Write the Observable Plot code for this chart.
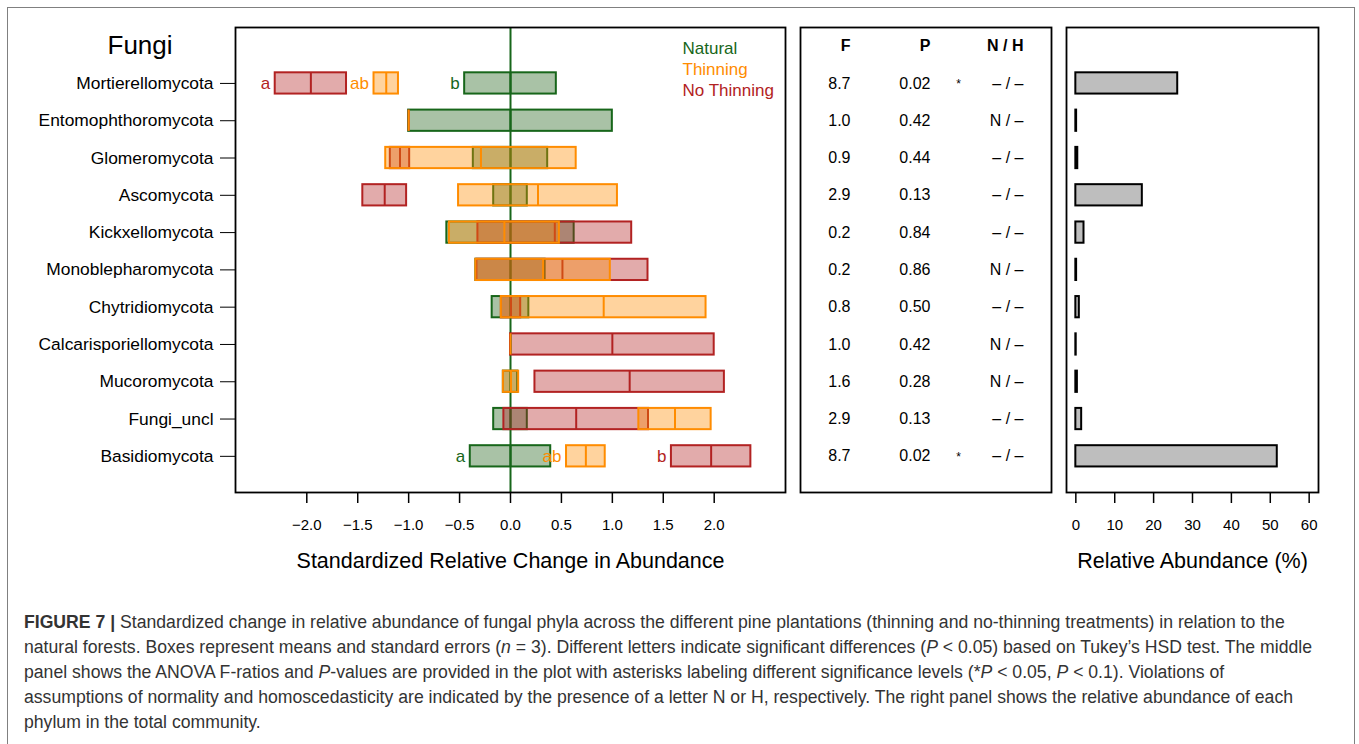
<!DOCTYPE html>
<html><head><meta charset="utf-8">
<script src="https://cdn.jsdelivr.net/npm/d3@7"></script>
<script src="https://cdn.jsdelivr.net/npm/@observablehq/plot@0.6"></script>
<style>
body{margin:0;background:#fff;}
#fig{position:relative;width:1359px;height:744px;overflow:hidden;font-family:"Liberation Sans",Arial,Helvetica,sans-serif;background:#fff;}
#border{position:absolute;left:7px;top:7px;width:1346px;height:800px;border:1px solid #808080;}
.panel{position:absolute;top:0;}
#caption{position:absolute;left:24px;top:610px;font-size:16px;line-height:25px;color:#333;white-space:nowrap;}
#caption span{display:block;}
</style></head><body>
<div id="fig">
<div id="border"></div>
<div id="p1" class="panel" style="left:0px"></div>
<div id="p2" class="panel" style="left:790px"></div>
<div id="p3" class="panel" style="left:1060px"></div>
<div id="caption">
<span id="cap1"><b>FIGURE 7 |</b> Standardized change in relative abundance of fungal phyla across the different pine plantations (thinning and no-thinning treatments) in relation to the</span>
<span>natural forests. Boxes represent means and standard errors (<i>n</i> = 3). Different letters indicate significant differences (<i>P</i> &lt; 0.05) based on Tukey’s HSD test. The middle</span>
<span>panel shows the ANOVA F-ratios and <i>P</i>-values are provided in the plot with asterisks labeling different significance levels (*<i>P</i> &lt; 0.05, <i>P</i> &lt; 0.1). Violations of</span>
<span>assumptions of normality and homoscedasticity are indicated by the presence of a letter N or H, respectively. The right panel shows the relative abundance of each</span>
<span>phylum in the total community.</span>
</div>
</div>
<script>
// ---------- data ----------
const phyla = ["Mortierellomycota","Entomophthoromycota","Glomeromycota","Ascomycota","Kickxellomycota","Monoblepharomycota","Chytridiomycota","Calcarisporiellomycota","Mucoromycota","Fungi_uncl","Basidiomycota"];
const naturalMean = [0,0,0,0,0,0,0,0,0,0,0];
const naturalSE   = [0.45,1.0,0.365,0.165,0.625,0.34,0.18,0,0.07,0.165,0.395];
const thinningMean = [-1.22,-1.0,-0.29,0.27,-0.06,0.32,0.915,0,0.005,1.615,0.74];
const thinningSE   = [0.12,0,0.935,0.78,0.54,0.66,1.005,0,0.075,0.355,0.19];
const noThinMean = [-1.96,-1.0,-1.085,-1.235,0.435,0.51,0.005,1.0,1.17,0.645,1.97];
const noThinSE   = [0.35,0,0.095,0.215,0.755,0.84,0.095,1.0,0.93,0.71,0.39];
const naturalLetters  = ["b","","","","","","","","","","a"];
const thinningLetters = ["ab","","","","","","","","","","ab"];
const noThinLetters   = ["a","","","","","","","","","","b"];
const Fratio = ["8.7","1.0","0.9","2.9","0.2","0.2","0.8","1.0","1.6","2.9","8.7"];
const Pvalue = ["0.02","0.42","0.44","0.13","0.84","0.86","0.50","0.42","0.28","0.13","0.02"];
const signif = ["*","","","","","","","","","","*"];
const NH = ["– / –","N / –","– / –","– / –","– / –","N / –","– / –","N / –","N / –","– / –","– / –"];
const relAbundance = [26.2,0.2,0.5,17.1,2.1,0.2,0.9,0.1,0.4,1.5,51.8];
const xTicks = [-2.0,-1.5,-1.0,-0.5,0.0,0.5,1.0,1.5,2.0];
const abTicks = [0,10,20,30,40,50,60];

// ---------- styles ----------
const FONT = "Liberation Sans, Arial, Helvetica, sans-serif";
const H = 0.285;
const groups = [
  {key:"Natural", mean:naturalMean, se:naturalSE, letters:naturalLetters, stroke:"#17661a", fill:"#0a5000", op:0.35},
  {key:"Thinning", mean:thinningMean, se:thinningSE, letters:thinningLetters, stroke:"#ff8c00", fill:"#ff8c00", op:0.38},
  {key:"No Thinning", mean:noThinMean, se:noThinSE, letters:noThinLetters, stroke:"#b22222", fill:"#b22222", op:0.38}
];
const drawOrder = [0, 2, 1];
const rows = phyla.map((name,i)=>({name,i}));
const yScale = {domain:[-1.5,10.97], reverse:true, axis:null};
const common = {height:580, marginTop:27, marginBottom:88,
  style:{fontFamily:FONT, color:"black", background:"transparent", overflow:"visible"}};

// ---------- left panel ----------
const marks1 = [Plot.ruleX([0], {stroke:"#17661a", strokeWidth:2})];
drawOrder.forEach(k=>{
  const g = groups[k];
  const d = phyla.map((p,i)=>({i, lo:g.mean[i]-g.se[i], hi:g.mean[i]+g.se[i], mean:g.mean[i], letter:g.letters[i]}));
  marks1.push(Plot.rect(d, {x1:"lo", x2:"hi", y1:r=>r.i-H, y2:r=>r.i+H, fill:g.fill, fillOpacity:g.op, stroke:g.stroke, strokeWidth:2}));
  marks1.push(Plot.ruleX(d, {x:"mean", y1:r=>r.i-H, y2:r=>r.i+H, stroke:g.stroke, strokeWidth:2}));
  marks1.push(Plot.text(d.filter(r=>r.letter), {x:"lo", y:"i", text:"letter", dx:-5, textAnchor:"end", fill:g.stroke, fontSize:17}));
});
groups.forEach((g,k)=>{
  marks1.push(Plot.text([g.key], {text:d=>d, frameAnchor:"top-left", dx:447, dy:21+k*21, textAnchor:"start", lineAnchor:"middle", fill:g.stroke, fontSize:17}));
});
marks1.push(
  Plot.frame({stroke:"black", strokeWidth:1.8}),
  Plot.axisY({ticks:d3.range(phyla.length), tickFormat:i=>phyla[i], tickSize:15, tickPadding:7, fontSize:17.4, label:null}),
  Plot.axisX({ticks:xTicks, tickFormat:d3.format(".1f"), tickSize:11, tickPadding:16, fontSize:15, label:null, strokeWidth:1.5}),
  Plot.text(["Fungi"], {text:d=>d, frameAnchor:"top-left", dx:-128, dy:18, textAnchor:"start", lineAnchor:"middle", fontSize:26}),
  Plot.text(["Standardized Relative Change in Abundance"], {text:d=>d, frameAnchor:"bottom", dy:69, lineAnchor:"middle", fontSize:21.5})
);
const p1 = Plot.plot({...common, width:790, marginLeft:235, marginRight:5,
  x:{domain:[-2.7,2.7]}, y:yScale, marks:marks1});
document.getElementById("p1").appendChild(p1);

// ---------- middle panel ----------
const cols = [
  {head:"F", vals:Fratio, dx:50},
  {head:"P", vals:Pvalue, dx:130},
  {head:"N / H", vals:NH, dx:223}
];
const marks2 = [Plot.frame({stroke:"black", strokeWidth:1.8})];
cols.forEach(c=>{
  marks2.push(Plot.text([c.head], {text:d=>d, frameAnchor:"top-left", dx:c.dx, dy:18, textAnchor:"end", lineAnchor:"middle", fontWeight:"bold", fontSize:16}));
  marks2.push(Plot.text(rows, {y:"i", text:d=>c.vals[d.i], frameAnchor:"left", dx:c.dx, textAnchor:"end", fontSize:16}));
});
marks2.push(Plot.text(rows.filter(d=>signif[d.i]), {y:"i", text:d=>signif[d.i], frameAnchor:"left", dx:158, dy:1, textAnchor:"middle", fontSize:12}));
const p2 = Plot.plot({...common, width:270, marginLeft:10, marginRight:9,
  x:{domain:[0,1], axis:null}, y:yScale, marks:marks2});
document.getElementById("p2").appendChild(p2);

// ---------- right panel ----------
const p3 = Plot.plot({...common, width:290, marginLeft:6, marginRight:32,
  x:{domain:[-2.4,62.4]}, y:yScale,
  marks:[
    Plot.rect(rows, {x1:0, x2:d=>relAbundance[d.i], y1:d=>d.i-H, y2:d=>d.i+H, fill:"#bebebe", stroke:"black", strokeWidth:2}),
    Plot.frame({stroke:"black", strokeWidth:1.8}),
    Plot.axisX({ticks:abTicks, tickFormat:d3.format("d"), tickSize:11, tickPadding:16, fontSize:15, label:null, strokeWidth:1.5}),
    Plot.text(["Relative Abundance (%)"], {text:d=>d, frameAnchor:"bottom", dy:69, lineAnchor:"middle", fontSize:21.5})
  ]});
document.getElementById("p3").appendChild(p3);

// fit caption width to the reference line length
const cap1 = document.getElementById("cap1");
const w = cap1.getBoundingClientRect().width;
const cap = document.getElementById("caption");
cap.style.fontSize = (16 * 1289 / w).toFixed(2) + "px";
</script>
</body></html>
